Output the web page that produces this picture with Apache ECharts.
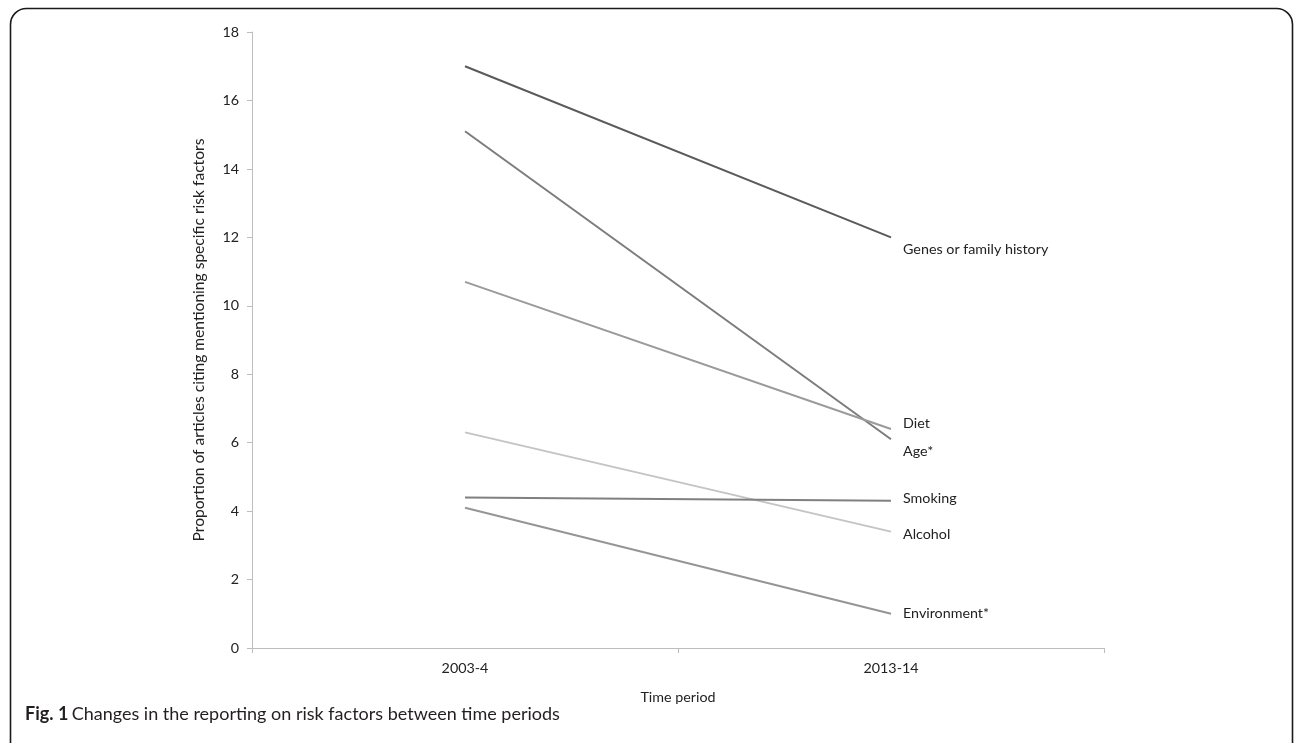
<!DOCTYPE html>
<html>
<head>
<meta charset="utf-8">
<script src="https://cdn.jsdelivr.net/npm/echarts@6/dist/echarts.min.js"></script>
<style>
html,body{margin:0;padding:0;background:#fff;}
#c{width:1295px;height:743px;}
</style>
</head>
<body>
<div id="c"></div>
<script>
const categories = ['2003-4', '2013-14'];
const seriesNames = ['Genes or family history', 'Age*', 'Diet', 'Alcohol', 'Smoking', 'Environment*'];
const genes = [17, 12];
const age = [15.1, 6.1];
const diet = [10.7, 6.4];
const alcohol = [6.3, 3.4];
const smoking = [4.4, 4.3];
const environment = [4.1, 1.0];
const yTicks = [0, 2, 4, 6, 8, 10, 12, 14, 16, 18];

const values = [genes, age, diet, alcohol, smoking, environment];
const colors = ['#5a5a5a', '#7c7c7c', '#9a9a9a', '#c4c4c4', '#808080', '#959595'];
const labelOffsets = [[0, 12], [0, 12], [0, -6], [0, 3], [0, -2], [0, 0]];
const FONT = 'Lato';
const FS = 14.3;

const chart = echarts.init(document.getElementById('c'));
chart.setOption({
  animation: false,
  backgroundColor: '#fff',
  textStyle: { fontFamily: FONT },
  grid: { left: 252, right: 191, top: 32, bottom: 95, containLabel: false },
  xAxis: {
    type: 'category',
    data: categories,
    boundaryGap: true,
    name: 'Time period',
    nameLocation: 'middle',
    nameGap: 42,
    nameTextStyle: { fontFamily: FONT, fontSize: FS, color: '#222' },
    axisLine: { lineStyle: { color: '#bdbdbd', width: 1 } },
    axisTick: { show: true, length: 5, lineStyle: { color: '#bdbdbd' } },
    axisLabel: { fontFamily: FONT, fontSize: FS, color: '#222', margin: 13 },
    splitLine: { show: false }
  },
  yAxis: {
    type: 'value',
    min: yTicks[0],
    max: yTicks[yTicks.length - 1],
    interval: 2,
    name: 'Proportion of articles citing mentioning specific risk factors',
    nameLocation: 'middle',
    nameGap: 45,
    nameTextStyle: { fontFamily: FONT, fontSize: 15.6, color: '#222' },
    axisLine: { show: true, lineStyle: { color: '#bdbdbd', width: 1 } },
    axisTick: { show: true, length: 5, lineStyle: { color: '#bdbdbd' } },
    axisLabel: { fontFamily: FONT, fontSize: FS, color: '#222', margin: 13 },
    splitLine: { show: false }
  },
  series: seriesNames.map((n, i) => ({
    name: n,
    type: 'line',
    data: values[i],
    symbol: 'none',
    lineStyle: { color: colors[i], width: 2 },
    itemStyle: { color: colors[i] },
    endLabel: {
      show: true,
      formatter: n,
      distance: 12,
      offset: labelOffsets[i],
      fontFamily: FONT,
      fontSize: FS,
      color: '#222'
    },
    silent: true
  })),
  graphic: [
    {
      type: 'rect',
      shape: { x: 10.5, y: 8.5, width: 1282, height: 780, r: 16 },
      style: { fill: 'none', stroke: '#1a1a1a', lineWidth: 1.6 },
      silent: true
    },
    {
      type: 'text',
      left: 25,
      top: 705,
      style: {
        rich: {
          b: { fontFamily: FONT, fontWeight: 'bold', fontSize: 18, fill: '#231f20' },
          n: { fontFamily: FONT, fontSize: 18, fill: '#231f20' }
        },
        text: '{b|Fig. 1} {n|Changes in the reporting on risk factors between time periods}'
      }
    }
  ]
});
</script>
</body>
</html>
